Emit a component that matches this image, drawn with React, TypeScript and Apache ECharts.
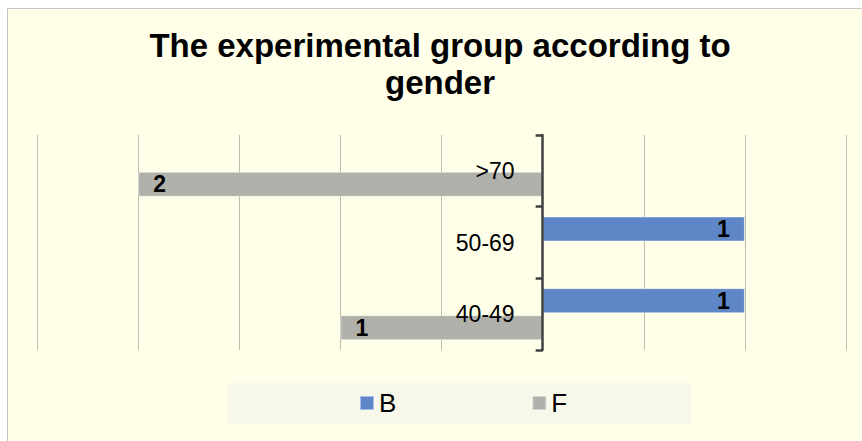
import React, { useEffect, useRef } from "react";
import * as echarts from "echarts";

// Age bands (bottom to top) and counts per gender
const ageBands = ["40-49", "50-69", ">70"];
const seriesB = [1, 1, 0];
const seriesF = [-1, 0, -2];
const legendNames = ["B", "F"];
const titleLines = ["The experimental group according to", "gender"];

const BLUE = "#5F87C8";
const GRAY = "#B1B1AB";
const FONT = "Liberation Sans, Arial, sans-serif";

const X_MIN = -2.5;
const X_MAX = 1.5;
const GRID_LEFT = 37;
const GRID_RIGHT = 16;
const CHART_W = 862;

export default function App() {
  const ref = useRef<HTMLDivElement>(null);

  useEffect(() => {
    if (!ref.current) return;
    const chart = echarts.init(ref.current, undefined, { renderer: "svg" });
    const valueLabel = (p: any) => (p.value === 0 ? "" : String(Math.abs(p.value)));
    // shift the category axis from the grid's left edge onto x = 0
    const plotW = CHART_W - GRID_LEFT - GRID_RIGHT;
    const zeroOffset = -((0 - X_MIN) / (X_MAX - X_MIN)) * plotW;

    chart.setOption({
      animation: false,
      backgroundColor: "#ffffff",
      graphic: [
        {
          type: "rect",
          z: -10,
          silent: true,
          shape: { x: 7.5, y: 8.5, width: 860, height: 440 },
          style: { fill: "#FFFFE9", stroke: "#C6C6C6", lineWidth: 1 },
        },
        {
          type: "rect",
          z: -5,
          silent: true,
          shape: { x: 227, y: 383, width: 464, height: 41 },
          style: { fill: "#F8F8EA" },
        },
        {
          type: "text",
          x: 440,
          y: 27,
          style: {
            text: titleLines.join("\n"),
            textAlign: "center",
            fontFamily: FONT,
            fontWeight: "bold",
            fontSize: 33,
            lineHeight: 37,
            fill: "#000000",
          },
        },
      ],
      legend: {
        data: legendNames,
        left: 359,
        top: 390,
        padding: 0,
        itemWidth: 14,
        itemHeight: 14,
        itemGap: 135,
        icon: "rect",
        textStyle: { fontFamily: FONT, fontSize: 26, color: "#000000" },
      },
      grid: {
        left: GRID_LEFT,
        right: GRID_RIGHT,
        top: 135,
        bottom: 91,
        containLabel: false,
        outerBoundsMode: "none",
      },
      xAxis: {
        type: "value",
        min: X_MIN,
        max: X_MAX,
        interval: 0.5,
        axisLine: { show: false },
        axisTick: { show: false },
        axisLabel: { show: false },
        splitLine: { show: true, lineStyle: { color: "#BDBDAE", width: 1 } },
      },
      yAxis: {
        type: "category",
        data: ageBands,
        position: "left",
        offset: zeroOffset,
        z: 5,
        axisLine: { show: true, onZero: false, lineStyle: { color: "#404040", width: 2.5 } },
        axisTick: { show: true, length: 7, lineStyle: { color: "#404040", width: 2.5 } },
        axisLabel: { margin: 28, fontFamily: FONT, fontSize: 23, color: "#000000" },
      },
      series: [
        {
          name: "B",
          type: "bar",
          data: seriesB,
          barWidth: 25,
          barGap: "8%",
          itemStyle: { color: BLUE, borderColor: "rgba(255,255,255,0.45)", borderWidth: 1 },
          label: {
            show: true,
            position: "insideRight",
            distance: 15,
            formatter: valueLabel,
            fontFamily: FONT,
            fontWeight: "bold",
            fontSize: 23,
            color: "#000000",
          },
        },
        {
          name: "F",
          type: "bar",
          data: seriesF,
          barWidth: 25,
          barGap: "8%",
          itemStyle: { color: GRAY, borderColor: "rgba(255,255,255,0.45)", borderWidth: 1 },
          label: {
            show: true,
            position: "insideLeft",
            distance: 15,
            formatter: valueLabel,
            fontFamily: FONT,
            fontWeight: "bold",
            fontSize: 23,
            color: "#000000",
          },
        },
      ],
    });
    return () => chart.dispose();
  }, []);

  return (
    <div
      ref={ref}
      style={{ position: "absolute", left: 0, top: 0, width: 862, height: 441 }}
    />
  );
}
